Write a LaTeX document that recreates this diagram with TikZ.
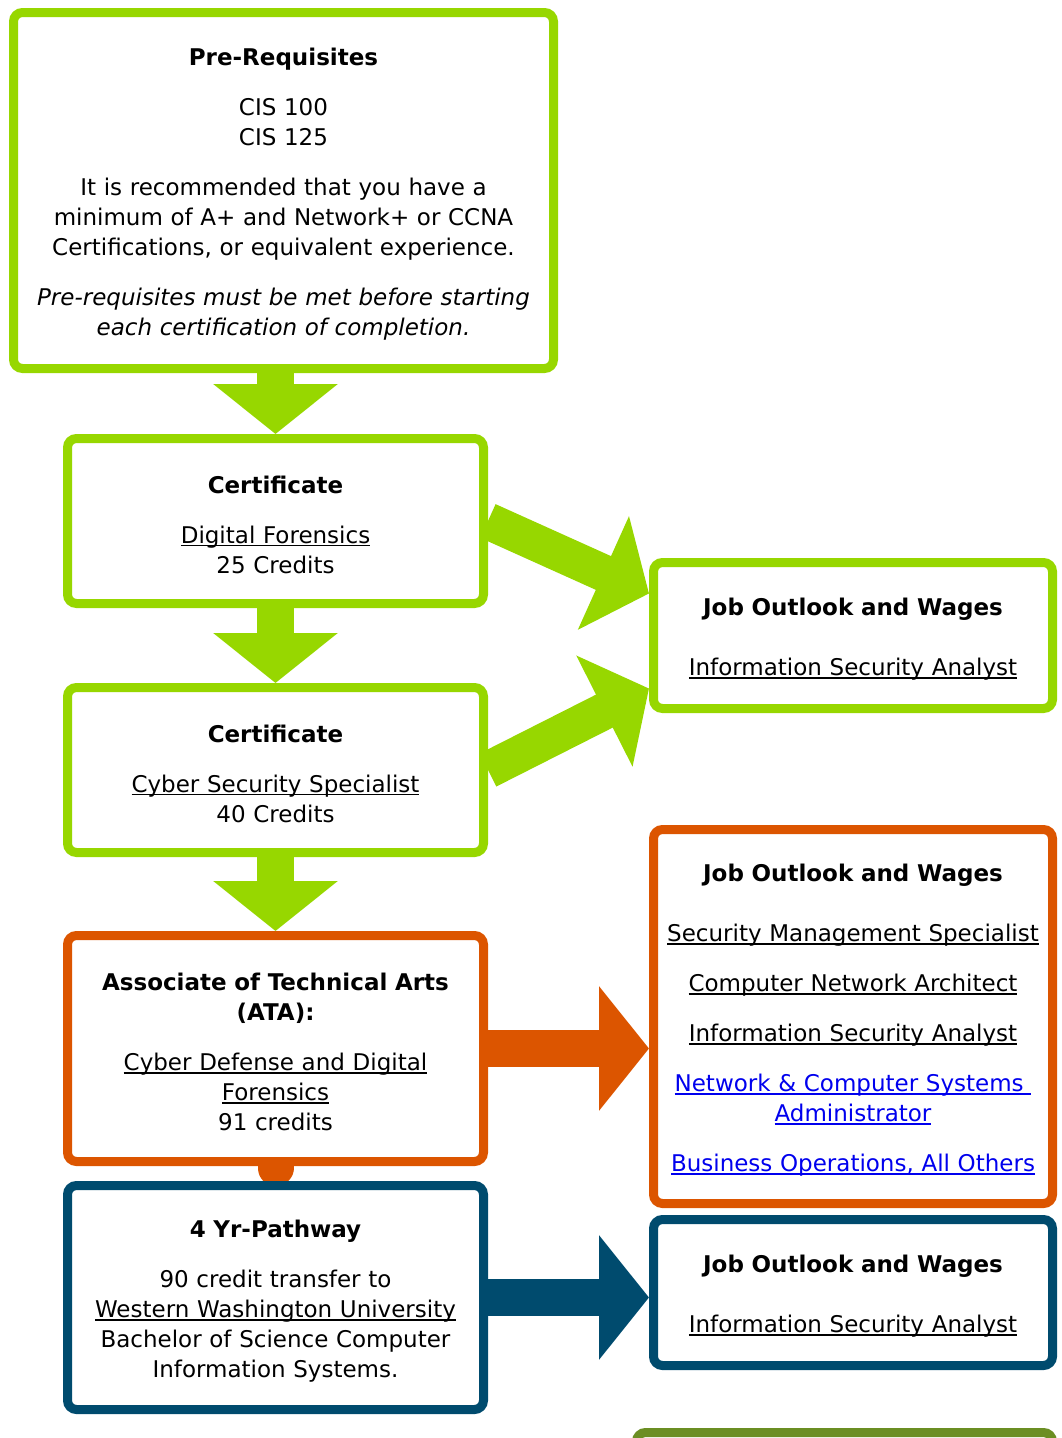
\documentclass[tikz,border=0pt]{standalone}
\usepackage{fontspec}
\setmainfont{DejaVu Sans}
\usetikzlibrary{arrows.meta,backgrounds}
\definecolor{cgreen}{HTML}{97D700}
\definecolor{corange}{HTML}{DC5500}
\definecolor{cblue}{HTML}{004B6E}
\definecolor{colive}{HTML}{6B8E23}
\definecolor{clink}{HTML}{0000EE}
\newcommand{\lnk}[1]{\leavevmode\setbox0\hbox{#1}\rlap{\rule[-3pt]{\wd0}{1.5pt}}\box0}
\begin{document}
\begin{tikzpicture}[x=1pt,y=-1pt,
  box/.style={draw, line width=9pt, rounded corners=9pt, fill=white, inner sep=0pt,
    align=center, font=\fontsize{23}{30}\selectfont, execute at begin node={\rule{0pt}{25pt}}},
  fat/.style={line width=37pt, -{Triangle[length=50pt,width=122pt]}}]
\useasboundingbox (0,0) rectangle (1062,1438);
\clip (0,0) rectangle (1062,1438);
\node[box, draw=cgreen, minimum width=540, minimum height=356, text width=530] (prereq) at (283.5,190.5){\textbf{Pre-Requisites}\\[20pt]CIS 100\\CIS 125\\[20pt]It is recommended that you have a\\minimum of A+ and Network+ or CCNA\\Certifications, or equivalent experience.\\[20pt]\textit{Pre-requisites must be met before starting}\\\textit{each certification of completion.}};
\node[box, draw=cgreen, minimum width=416, minimum height=165, text width=405] (cert1) at (275.5,521){\textbf{Certificate}\\[20pt]\lnk{Digital Forensics}\\25 Credits};
\node[box, draw=cgreen, minimum width=416, minimum height=165, text width=405] (cert2) at (275.5,770){\textbf{Certificate}\\[20pt]\lnk{Cyber Security Specialist}\\40 Credits};
\node[box, draw=corange, minimum width=416, minimum height=226, text width=405] (ata) at (275.5,1048.5){\textbf{Associate of Technical Arts}\\\textbf{(ATA):}\\[20pt]\lnk{Cyber Defense and Digital}\\\lnk{Forensics}\\91 credits};
\node[box, draw=cblue, minimum width=416, minimum height=224, text width=405] (yr4) at (275.5,1297.5){\textbf{4 Yr-Pathway}\\[20pt]90 credit transfer to\\\lnk{Western Washington University}\\Bachelor of Science Computer\\Information Systems.};
\node[box, draw=cgreen, minimum width=399, minimum height=146, text width=392] (job1) at (853,635.5){\textbf{Job Outlook and Wages}\\[30pt]\lnk{Information Security Analyst}};
\node[box, draw=corange, minimum width=399, minimum height=374, text width=392] (job2) at (853,1016.5){\textbf{Job Outlook and Wages}\\[30pt]\lnk{Security Management Specialist}\\[20pt]\lnk{Computer Network Architect}\\[20pt]\lnk{Information Security Analyst}\\[20pt]{\color{clink}\lnk{Network \& Computer Systems\ }}\\{\color{clink}\lnk{Administrator}}\\[20pt]{\color{clink}\lnk{Business Operations, All Others}}};
\node[box, draw=cblue, minimum width=399, minimum height=146, text width=392] (job3) at (853,1292.5){\textbf{Job Outlook and Wages}\\[30pt]\lnk{Information Security Analyst}};
\node[box, draw=colive, minimum width=416, minimum height=100, anchor=north] (next) at (844.5,1428){};
\coordinate (joint) at ([yshift=-2pt]ata.south);
\begin{scope}[on background layer]
\draw[fat, cgreen] (prereq.south -| cert1.north) -- (cert1.north);
\draw[fat, cgreen] (cert1.south) -- (cert2.north);
\draw[fat, cgreen] (cert2.south) -- (ata.north);
\draw[fat, cgreen] (cert1.east) -- ([yshift=42pt]job1.west);
\draw[fat, cgreen] (cert2.east) -- ([yshift=-53pt]job1.west);
\draw[fat, corange] (ata.east) -- (ata.east -| job2.west);
\draw[fat, cblue] (yr4.east) -- (yr4.east -| job3.west);
\draw[corange, line width=36pt, line cap=round] (ata.south) -- (joint);
\end{scope}
\end{tikzpicture}
\end{document}
